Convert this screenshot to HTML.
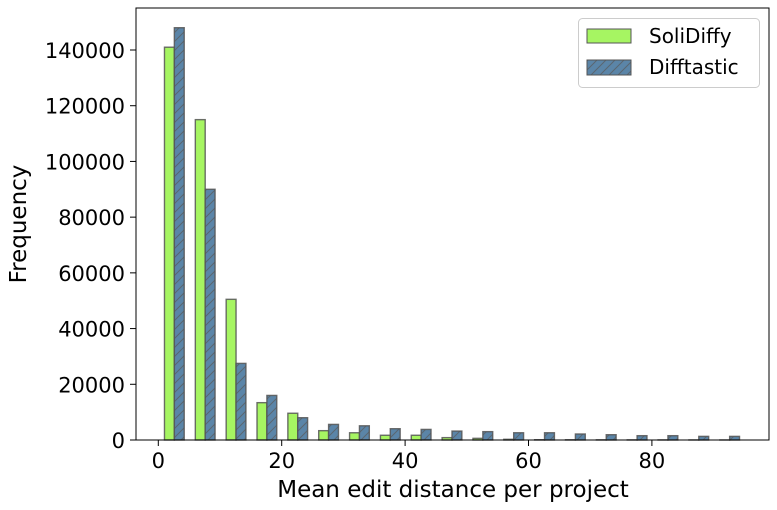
<!DOCTYPE html>
<html><head><meta charset="utf-8"><style>
body{margin:0;background:#fff;}
svg text{font-family:"DejaVu Sans","Liberation Sans",sans-serif;fill:#000;}
</style></head><body>
<svg id="chart" width="777" height="505">
<defs>
<pattern id="hatch" patternUnits="userSpaceOnUse" width="9" height="9">
<rect width="9" height="9" fill="#5b85a8"/>
<path d="M-1,1 L1,-1 M0,9 L9,0 M8,10 L10,8" stroke="#5a6670" stroke-width="1"/>
</pattern>
</defs>
<g id="bars"></g>
<rect x="136" y="8" width="633" height="432" fill="none" stroke="#000" stroke-width="1"/>
<g id="axes"></g>
<text x="453" y="497" font-size="23" text-anchor="middle">Mean edit distance per project</text>
<text transform="translate(26,224) rotate(-90)" font-size="23" text-anchor="middle">Frequency</text>
<g>
<rect x="578.5" y="18.5" width="181" height="69" rx="4" fill="#fff" stroke="#ccc"/>
<g>
<rect x="587" y="29" width="44" height="14" fill="#a6f562" stroke="#555"/>
<text x="649" y="43" font-size="20">SoliDiffy</text></g>
<g>
<rect x="587" y="60" width="44" height="15" fill="url(#hatch)" stroke="#555"/>
<text x="649" y="74" font-size="20">Difftastic</text></g>
</g>
</svg>
<script>
const binStarts=[1,6,11,16,21,26,31,36,41,46,51,56,61,66,71,76,81,86,91];
const soliDiffy=[141000,115000,50500,13400,9600,3350,2600,1700,1700,850,600,250,100,80,60,50,40,30,20];
const difftastic=[148000,90000,27500,16000,8000,5600,5100,4050,3800,3200,3000,2600,2600,2150,1900,1550,1550,1300,1300];
const xTicks=[0,20,40,60,80];
const yTicks=[0,20000,40000,60000,80000,100000,120000,140000];
const NS="http://www.w3.org/2000/svg";
const xs=v=>158.3+v*6.17;
const ys=v=>440-v*390/140000;
const barW=1.6;
const bars=document.getElementById('bars');
function bar(x,v,fill,name){
 const r=document.createElementNS(NS,'rect');
 r.setAttribute('x',xs(x));r.setAttribute('width',xs(x+barW)-xs(x));
 r.setAttribute('y',ys(v));r.setAttribute('height',440-ys(v));
 r.setAttribute('fill',fill);r.setAttribute('stroke','#555');r.setAttribute('stroke-width','1.4');r.setAttribute('stroke-opacity','0.85');
 
 
 bars.appendChild(r);
}
binStarts.forEach((b,i)=>{
 bar(b,soliDiffy[i],'#a6f562','bar-solidiffy');
 bar(b+barW,difftastic[i],'url(#hatch)','bar-difftastic');
});
const axes=document.getElementById('axes');
function el(tag,attrs,txt){const e=document.createElementNS(NS,tag);for(const k in attrs)e.setAttribute(k,attrs[k]);if(txt!==undefined)e.textContent=txt;axes.appendChild(e);return e;}
xTicks.forEach(t=>{
 const l=el('line',{x1:xs(t),x2:xs(t),y1:440,y2:446,stroke:'#000'});
 
 
 const tx=el('text',{x:xs(t),y:468,'font-size':21,'text-anchor':'middle'},String(t));
 
 
});
yTicks.forEach(t=>{
 const l=el('line',{x1:130,x2:136,y1:ys(t),y2:ys(t),stroke:'#000'});
 
 
 const tx=el('text',{x:125,y:ys(t)+8,'font-size':21,'text-anchor':'end'},String(t));
 
 
});
</script>
</body></html>
